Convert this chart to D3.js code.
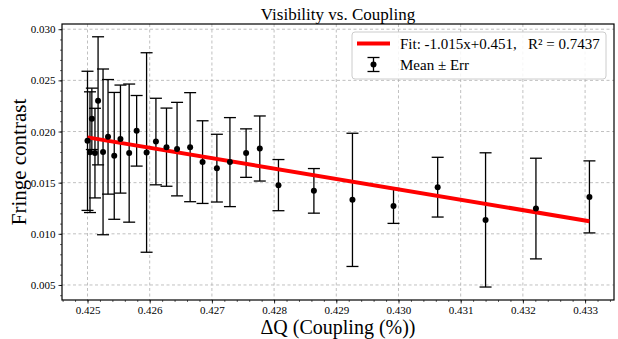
<!DOCTYPE html>
<html>
<head>
<meta charset="utf-8">
<script src="https://cdn.jsdelivr.net/npm/d3@7"></script>
<style>
  body { margin: 0; background: #fff; }
  svg text { font-family: "Liberation Serif", "DejaVu Serif", serif; fill: #000; }
</style>
</head>
<body>
<div id="chart"></div>
<script>
// coupling values (x) and mean fringe contrast with errors
const coupling = [
  0.42500, 0.42504, 0.42507, 0.42512, 0.42517, 0.42525, 0.42533, 0.42543,
  0.42553, 0.42567, 0.42579, 0.42595, 0.42610, 0.42627, 0.42644, 0.42665,
  0.42685, 0.42708, 0.42729, 0.42755, 0.42777, 0.42807, 0.42864, 0.42926,
  0.42992, 0.43063, 0.43140, 0.43221, 0.43307
];
const contrast = [
  0.01909, 0.01798, 0.02124, 0.01789, 0.02300, 0.01801, 0.01948, 0.01762,
  0.01926, 0.01789, 0.02007, 0.01795, 0.01902, 0.01847, 0.01828, 0.01847,
  0.01701, 0.01642, 0.01701, 0.01789, 0.01834, 0.01476, 0.01420, 0.01332,
  0.01273, 0.01456, 0.01136, 0.01247, 0.01361
];
const contrastErr = [
  0.00680, 0.00590, 0.00300, 0.00438, 0.00626, 0.00810, 0.00560, 0.00620,
  0.00528, 0.00675, 0.00345, 0.00975, 0.00423, 0.00382, 0.00457, 0.00533,
  0.00404, 0.00331, 0.00435, 0.00237, 0.00318, 0.00250, 0.00218, 0.00651,
  0.00171, 0.00292, 0.00656, 0.00492, 0.00352
];
const fitSlope = -1.015;
const fitIntercept = 0.4508;
const xTicks = [0.425, 0.426, 0.427, 0.428, 0.429, 0.430, 0.431, 0.432, 0.433];
const yTicks = [0.005, 0.010, 0.015, 0.020, 0.025, 0.030];
const fitLabel = "Fit: -1.015x+0.451,   R\u00b2 = 0.7437";
const pointLabel = "Mean \u00b1 Err";

const width = 618, height = 339;
const margin = { top: 24, right: 4, bottom: 39, left: 62 };
const innerW = width - margin.left - margin.right;
const innerH = height - margin.top - margin.bottom;
const serif = "Liberation Serif, DejaVu Serif, serif";

const svg = d3.select("#chart").append("svg")
  .attr("width", width).attr("height", height);

const g = svg.append("g")
  .attr("transform", "translate(" + margin.left + "," + margin.top + ")");

const x = d3.scaleLinear().domain([0.42459, 0.433465]).range([0, innerW]);
const y = d3.scaleLinear().domain([0.003532, 0.030509]).range([innerH, 0]);

// grid
g.append("g").selectAll("line").data(xTicks).enter().append("line")
  .attr("x1", d => x(d)).attr("x2", d => x(d))
  .attr("y1", 0).attr("y2", innerH)
  .attr("stroke", "#b0b0b0").attr("stroke-width", 0.8)
  .attr("stroke-dasharray", "3,2.5");
g.append("g").selectAll("line").data(yTicks).enter().append("line")
  .attr("x1", 0).attr("x2", innerW)
  .attr("y1", d => y(d)).attr("y2", d => y(d))
  .attr("stroke", "#b0b0b0").attr("stroke-width", 0.8)
  .attr("stroke-dasharray", "3,2.5");

// axes with minor ticks
const xMinor = d3.range(0.4246, 0.4335, 0.0002).filter(v => x(v) >= 0 && x(v) <= innerW);
const yMinor = d3.range(0.004, 0.0305, 0.001);

const xAxisMinor = g.append("g").attr("transform", "translate(0," + innerH + ")")
  .call(d3.axisBottom(x).tickValues(xMinor).tickSize(2).tickFormat(""));
const yAxisMinor = g.append("g")
  .call(d3.axisLeft(y).tickValues(yMinor).tickSize(2).tickFormat(""));
[xAxisMinor, yAxisMinor].forEach(a => {
  a.select(".domain").remove();
  a.selectAll("line").attr("stroke-width", 0.6);
});

const xAxis = g.append("g").attr("transform", "translate(0," + innerH + ")")
  .call(d3.axisBottom(x).tickValues(xTicks).tickSize(3.5).tickPadding(3).tickFormat(d3.format(".3f")));
const yAxis = g.append("g")
  .call(d3.axisLeft(y).tickValues(yTicks).tickSize(3.5).tickPadding(3).tickFormat(d3.format(".3f")));
[xAxis, yAxis].forEach(a => {
  a.attr("font-family", serif).attr("font-size", 11);
  a.select(".domain").remove();
  a.selectAll("line").attr("stroke-width", 0.8);
});

// frame
g.append("rect").attr("width", innerW).attr("height", innerH)
  .attr("fill", "none").attr("stroke", "#000").attr("stroke-width", 1.2);

// error bars
const pts = coupling.map((c, i) => ({ x: c, y: contrast[i], e: contrastErr[i] }));
const capW = 6;
const eb = g.append("g").selectAll("g").data(pts).enter().append("g");
eb.append("line")
  .attr("x1", d => x(d.x)).attr("x2", d => x(d.x))
  .attr("y1", d => y(d.y - d.e)).attr("y2", d => y(d.y + d.e))
  .attr("stroke", "#000").attr("stroke-width", 1.3);
eb.append("line")
  .attr("x1", d => x(d.x) - capW).attr("x2", d => x(d.x) + capW)
  .attr("y1", d => y(d.y + d.e)).attr("y2", d => y(d.y + d.e))
  .attr("stroke", "#000").attr("stroke-width", 1.3);
eb.append("line")
  .attr("x1", d => x(d.x) - capW).attr("x2", d => x(d.x) + capW)
  .attr("y1", d => y(d.y - d.e)).attr("y2", d => y(d.y - d.e))
  .attr("stroke", "#000").attr("stroke-width", 1.3);

// fit line
const xExt = d3.extent(coupling);
g.append("line")
  .attr("x1", x(xExt[0])).attr("y1", y(fitSlope * xExt[0] + fitIntercept))
  .attr("x2", x(xExt[1])).attr("y2", y(fitSlope * xExt[1] + fitIntercept))
  .attr("stroke", "#ff0000").attr("stroke-width", 4);

// points
g.append("g").selectAll("circle").data(pts).enter().append("circle")
  .attr("cx", d => x(d.x)).attr("cy", d => y(d.y)).attr("r", 3)
  .attr("fill", "#000");

// legend
const lg = svg.append("g").attr("transform", "translate(352,32)");
lg.append("rect").attr("width", 254).attr("height", 47).attr("rx", 3)
  .attr("fill", "#fff").attr("fill-opacity", 0.85)
  .attr("stroke", "#cccccc").attr("stroke-width", 1);
lg.append("line").attr("x1", 5).attr("x2", 38).attr("y1", 11.5).attr("y2", 11.5)
  .attr("stroke", "#ff0000").attr("stroke-width", 4);
lg.append("text").attr("x", 48).attr("y", 17).style("font-size", "15px")
  .attr("xml:space", "preserve").text(fitLabel);
lg.append("line").attr("x1", 21.5).attr("x2", 21.5).attr("y1", 25.5).attr("y2", 39.5)
  .attr("stroke", "#000").attr("stroke-width", 1.3);
lg.append("line").attr("x1", 15.5).attr("x2", 27.5).attr("y1", 25.5).attr("y2", 25.5)
  .attr("stroke", "#000").attr("stroke-width", 1.3);
lg.append("line").attr("x1", 15.5).attr("x2", 27.5).attr("y1", 39.5).attr("y2", 39.5)
  .attr("stroke", "#000").attr("stroke-width", 1.3);
lg.append("circle").attr("cx", 21.5).attr("cy", 32.5).attr("r", 3).attr("fill", "#000");
lg.append("text").attr("x", 48).attr("y", 38).style("font-size", "15px").text(pointLabel);

// title and axis labels
svg.append("text").attr("x", margin.left + innerW / 2).attr("y", 20)
  .attr("text-anchor", "middle").style("font-size", "17px")
  .text("Visibility vs. Coupling");
svg.append("text").attr("x", margin.left + innerW / 2).attr("y", 334)
  .attr("text-anchor", "middle").style("font-size", "20px")
  .text("\u0394Q (Coupling (%))");
svg.append("text")
  .attr("transform", "translate(26," + (margin.top + innerH / 2) + ") rotate(-90)")
  .attr("text-anchor", "middle").style("font-size", "21px")
  .text("Fringe contrast");
</script>
</body>
</html>
